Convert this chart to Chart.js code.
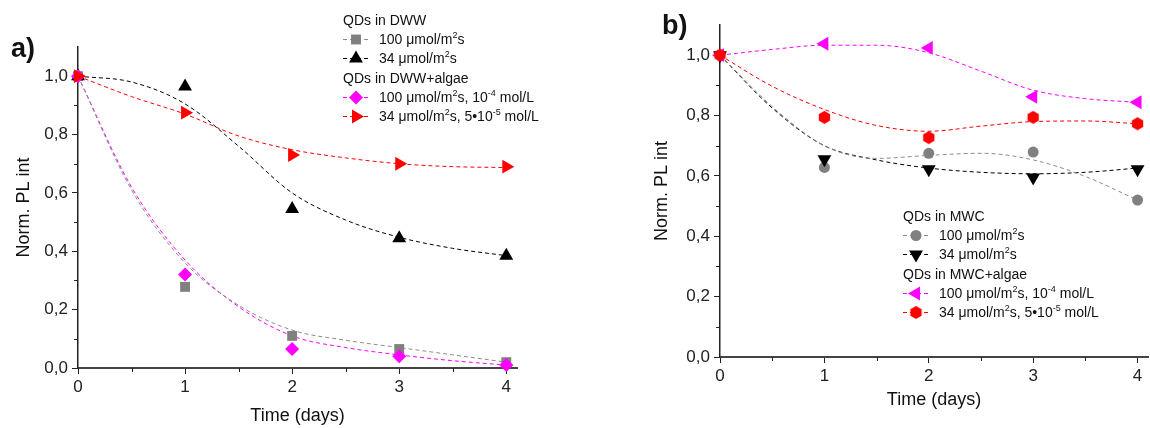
<!DOCTYPE html>
<html>
<head>
<meta charset="utf-8">
<script src="https://cdn.jsdelivr.net/npm/chart.js@4.4.1/dist/chart.umd.min.js"></script>
<style>
  body { margin: 0; background: #fff; width: 1150px; height: 428px; position: relative; overflow: hidden;
         font-family: "Liberation Sans", Arial, sans-serif; color: #111; }
  .panel { position: absolute; top: 0; }
  .tag { position: absolute; font-weight: bold; font-size: 27px; line-height: 30px; }
  .legend { position: absolute; font-size: 14px; }
  .legend .row { display: flex; align-items: center; height: 19.3px; white-space: nowrap; }
  .legend canvas { margin-right: 10px; }
  sup { font-size: 9px; vertical-align: 6px; line-height: 0; }
</style>
</head>
<body>
<div class="panel" style="left:0"><canvas id="chartA" width="580" height="428"></canvas></div>
<div class="panel" style="left:580px"><canvas id="chartB" width="576" height="428"></canvas></div>
<div class="tag" style="left:11px;top:33px">a)</div>
<div class="tag" style="left:662px;top:10px">b)</div>
<div class="legend" id="legendA" style="left:343px;top:10px"></div>
<div class="legend" id="legendB" style="left:903px;top:206px"></div>

<script>
// measured days and fitted-curve sample positions
const days = [0, 1, 2, 3, 4];
const fitDays = [0, 0.5, 1, 1.5, 2, 2.5, 3, 3.5, 4];
const xTickVals = [0, 1, 2, 3, 4];
const xMinorVals = [0.5, 1.5, 2.5, 3.5];
const yTickVals = [0, 0.2, 0.4, 0.6, 0.8, 1.0];
const yMinorVals = [0.1, 0.3, 0.5, 0.7, 0.9];

// panel a) QDs in DWW
const dww100 = [1.0, 0.278, 0.11, 0.065, 0.02];
const dww34 = [1.0, 0.965, 0.545, 0.445, 0.385];
const dwwAlgae100 = [1.0, 0.32, 0.065, 0.04, 0.01];
const dwwAlgae34 = [1.0, 0.875, 0.73, 0.70, 0.69];
const dww100Fit = [1.0, 0.61, 0.36, 0.215, 0.13, 0.095, 0.07, 0.045, 0.02];
const dww34Fit = [1.0, 0.98, 0.905, 0.76, 0.60, 0.507, 0.448, 0.41, 0.385];
const dwwAlgae100Fit = [1.0, 0.62, 0.37, 0.21, 0.11, 0.07, 0.045, 0.025, 0.01];
const dwwAlgae34Fit = [1.0, 0.93, 0.87, 0.795, 0.748, 0.72, 0.70, 0.69, 0.687];

// panel b) QDs in MWC
const mwc100 = [1.0, 0.628, 0.675, 0.679, 0.52];
const mwc34 = [1.0, 0.655, 0.622, 0.595, 0.622];
const mwcAlgae100 = [1.0, 1.038, 1.024, 0.862, 0.844];
const mwcAlgae34 = [1.0, 0.794, 0.727, 0.794, 0.773];
const mwc100Fit = [1.0, 0.83, 0.70, 0.658, 0.668, 0.675, 0.653, 0.598, 0.52];
const mwc34Fit = [1.0, 0.825, 0.70, 0.653, 0.626, 0.612, 0.607, 0.612, 0.626];
const mwcAlgae100Fit = [1.0, 1.019, 1.033, 1.033, 1.008, 0.947, 0.884, 0.856, 0.844];
const mwcAlgae34Fit = [1.0, 0.897, 0.82, 0.767, 0.748, 0.765, 0.78, 0.782, 0.773];

const FONT = '"Liberation Sans", Arial, sans-serif';
const GRAY = '#808080', BLACK = '#000000', MAGENTA = '#ff00ff', RED = '#ff0000';

function hexagon(color, r) {
  const cv = document.createElement('canvas');
  const s = Math.ceil(r * 2) + 2;
  cv.width = s; cv.height = s;
  const c = cv.getContext('2d');
  c.fillStyle = color;
  c.beginPath();
  for (let i = 0; i < 6; i++) {
    const a = Math.PI / 3 * i - Math.PI / 2;
    const px = s / 2 + r * Math.cos(a), py = s / 2 + r * Math.sin(a);
    if (i) c.lineTo(px, py); else c.moveTo(px, py);
  }
  c.closePath();
  c.fill();
  return cv;
}

const seriesA = [
  { head: 'QDs in DWW' },
  { text: '100 &mu;mol/m<sup>2</sup>s', vals: dww100, fit: dww100Fit, color: GRAY, line: '#8c8c8c', style: 'rect', r: 7, rot: 0 },
  { text: '34 &mu;mol/m<sup>2</sup>s', vals: dww34, fit: dww34Fit, color: BLACK, line: BLACK, style: 'triangle', r: 8, rot: 0 },
  { head: 'QDs in DWW+algae' },
  { text: '100 &mu;mol/m<sup>2</sup>s, 10<sup>-4</sup> mol/L', vals: dwwAlgae100, fit: dwwAlgae100Fit, color: MAGENTA, line: MAGENTA, style: 'rectRot', r: 7, rot: 0 },
  { text: '34 &mu;mol/m<sup>2</sup>s, 5&bull;10<sup>-5</sup> mol/L', vals: dwwAlgae34, fit: dwwAlgae34Fit, color: RED, line: RED, style: 'triangle', r: 8, rot: 90 }
];

const seriesB = [
  { head: 'QDs in MWC' },
  { text: '100 &mu;mol/m<sup>2</sup>s', vals: mwc100, fit: mwc100Fit, color: GRAY, line: '#8c8c8c', style: 'circle', r: 5.5, rot: 0 },
  { text: '34 &mu;mol/m<sup>2</sup>s', vals: mwc34, fit: mwc34Fit, color: BLACK, line: BLACK, style: 'triangle', r: 8, rot: 180 },
  { head: 'QDs in MWC+algae' },
  { text: '100 &mu;mol/m<sup>2</sup>s, 10<sup>-4</sup> mol/L', vals: mwcAlgae100, fit: mwcAlgae100Fit, color: MAGENTA, line: MAGENTA, style: 'triangle', r: 8, rot: 270 },
  { text: '34 &mu;mol/m<sup>2</sup>s, 5&bull;10<sup>-5</sup> mol/L', vals: mwcAlgae34, fit: mwcAlgae34Fit, color: RED, line: RED, style: hexagon(RED, 6.5), r: 6.5, rot: 0 }
];

const minorTicks = {
  id: 'minorTicks',
  afterDraw(chart) {
    const { ctx, scales: { x, y } } = chart;
    ctx.save();
    ctx.strokeStyle = '#222';
    ctx.lineWidth = 1;
    xMinorVals.forEach(v => {
      const px = Math.round(x.getPixelForValue(v)) + 0.5;
      ctx.beginPath(); ctx.moveTo(px, x.top); ctx.lineTo(px, x.top + 4); ctx.stroke();
    });
    yMinorVals.forEach(v => {
      const py = Math.round(y.getPixelForValue(v)) + 0.5;
      ctx.beginPath(); ctx.moveTo(y.right - 4, py); ctx.lineTo(y.right, py); ctx.stroke();
    });
    ctx.restore();
  }
};

function makeChart(id, series, opt) {
  const data = series.filter(s => s.vals);
  const markers = data.slice().reverse().map(s => ({
    data: days.map((d, i) => ({ x: d, y: s.vals[i] })),
    showLine: false,
    pointStyle: s.style,
    pointRadius: s.r,
    pointRotation: s.rot,
    backgroundColor: s.color,
    borderColor: s.color,
    pointBorderWidth: 0,
    clip: false,
    order: 0
  }));
  const fits = data.map(s => ({
    data: fitDays.map((d, i) => ({ x: d, y: s.fit[i] })),
    showLine: true,
    pointRadius: 0,
    borderColor: s.line,
    borderWidth: 1,
    borderDash: [4, 3],
    tension: 0.4,
    cubicInterpolationMode: 'monotone',
    order: 1
  }));

  new Chart(document.getElementById(id), {
    type: 'scatter',
    data: { datasets: markers.concat(fits) },
    options: {
      responsive: false,
      animation: false,
      events: [],
      layout: { padding: opt.padding },
      plugins: { legend: { display: false }, tooltip: { enabled: false } },
      scales: {
        x: {
          type: 'linear', min: 0, max: 4.1,
          afterBuildTicks: s => { s.ticks = xTickVals.map(v => ({ value: v })); },
          afterFit: s => { s.height = opt.xHeight; },
          ticks: { font: { family: FONT, size: 17 }, color: '#222', padding: 3, maxRotation: 0, autoSkip: false },
          grid: { drawOnChartArea: false, tickLength: 6, tickColor: '#222' },
          border: { color: '#444', width: 2 },
          title: { display: true, text: 'Time (days)', color: '#111', font: { family: FONT, size: 18 },
                   padding: { top: 0, bottom: opt.xTitlePad } }
        },
        y: {
          type: 'linear', min: 0, max: 1.1,
          afterBuildTicks: s => { s.ticks = yTickVals.map(v => ({ value: v })); },
          afterFit: s => { s.width = opt.yWidth; },
          ticks: { font: { family: FONT, size: 17 }, color: '#222', padding: 4,
                   callback: v => v.toFixed(1).replace('.', ',') },
          grid: { drawOnChartArea: false, tickLength: 6, tickColor: '#222' },
          border: { color: '#222', width: 1.5 },
          title: { display: true, text: 'Norm. PL int', color: '#111', font: { family: FONT, size: 18 },
                   padding: { top: opt.yTitlePad, bottom: 0 } }
        }
      }
    },
    plugins: [minorTicks]
  });
}

function makeLegend(id, series) {
  const box = document.getElementById(id);
  series.forEach(s => {
    const row = document.createElement('div');
    row.className = 'row';
    if (s.head) {
      row.textContent = s.head;
    } else {
      const cv = document.createElement('canvas');
      cv.width = 26; cv.height = 18;
      const c = cv.getContext('2d');
      c.strokeStyle = s.line; c.lineWidth = 1; c.setLineDash([4, 3]);
      c.beginPath(); c.moveTo(0, 9.5); c.lineTo(26, 9.5); c.stroke();
      c.setLineDash([]);
      c.fillStyle = s.color;
      Chart.helpers.drawPoint(c, { pointStyle: s.style, radius: s.r, rotation: s.rot, borderWidth: 0 }, 13, 9.5);
      const label = document.createElement('span');
      label.innerHTML = s.text;
      row.appendChild(cv);
      row.appendChild(label);
    }
    box.appendChild(row);
  });
}

makeChart('chartA', seriesA, { padding: { top: 47, right: 63, left: 0, bottom: 0 }, xHeight: 60, yWidth: 78, xTitlePad: 1, yTitlePad: 13 });
makeChart('chartB', seriesB, { padding: { top: 25, right: 0, left: 60, bottom: 0 }, xHeight: 71, yWidth: 80, xTitlePad: 17, yTitlePad: 11 });
makeLegend('legendA', seriesA);
makeLegend('legendB', seriesB);
</script>
</body>
</html>
